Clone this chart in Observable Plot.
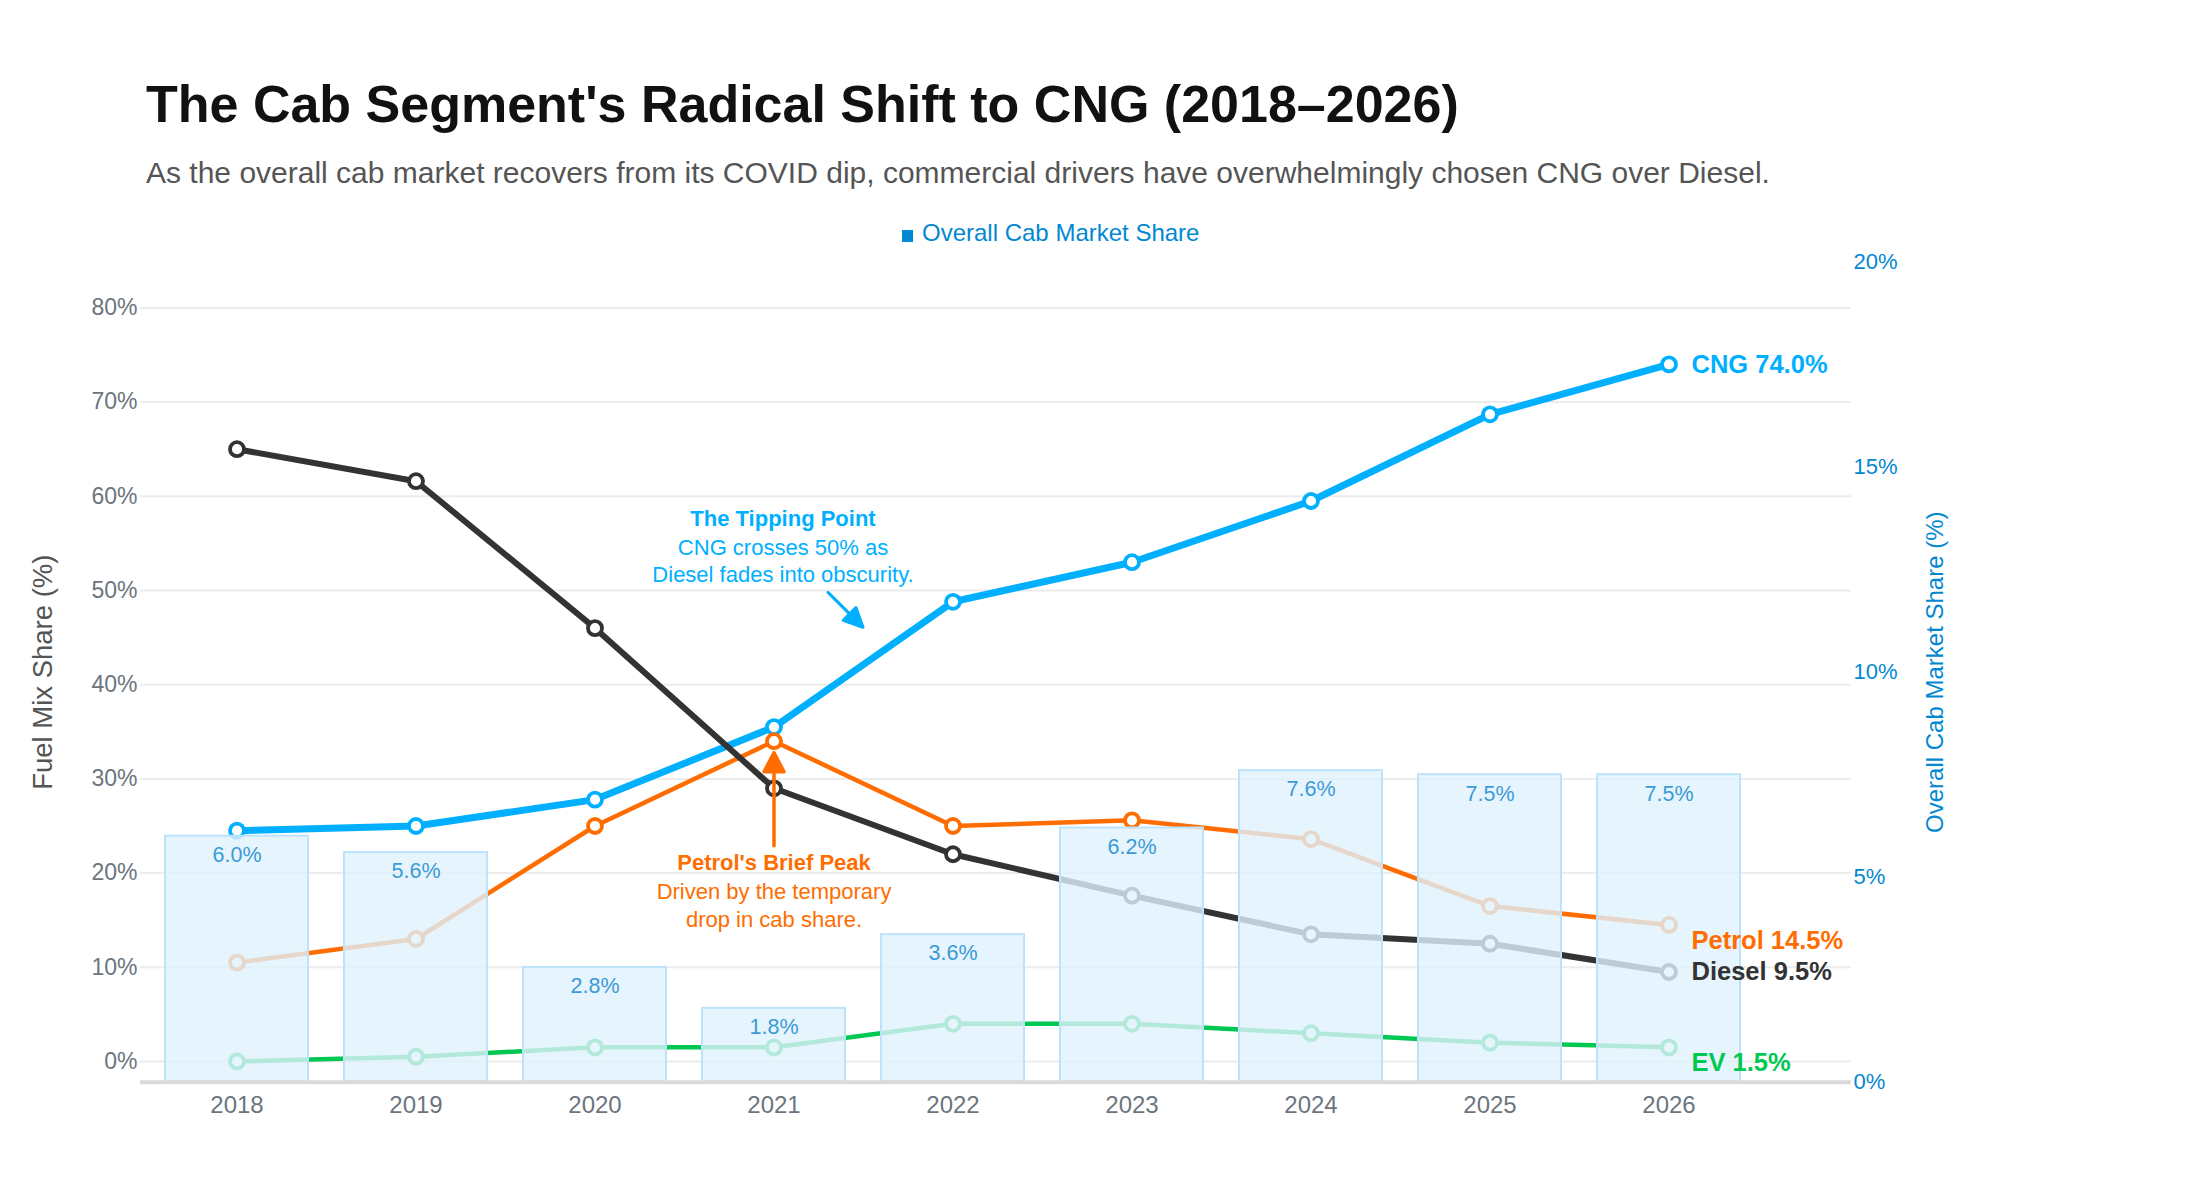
<!DOCTYPE html>
<html>
<head>
<meta charset="utf-8">
<script src="https://cdn.jsdelivr.net/npm/d3@7"></script>
<script src="https://cdn.jsdelivr.net/npm/@observablehq/plot@0.6"></script>
<style>
  html, body { margin: 0; padding: 0; background: #ffffff; }
  body { width: 2200px; height: 1200px; position: relative; font-family: "Liberation Sans", Arial, Helvetica, sans-serif; }
  .title { position: absolute; left: 146px; top: 78px; font-size: 52px; line-height: 52px; font-weight: 700; color: #111111; white-space: nowrap; }
  .subtitle { position: absolute; left: 146px; top: 158px; font-size: 30px; line-height: 30px; color: #555555; white-space: nowrap; }
  .legend { position: absolute; left: 922px; top: 221px; font-size: 24px; line-height: 24px; color: #0288d1; white-space: nowrap; }
  .legend-swatch { position: absolute; left: 902px; top: 230px; width: 11px; height: 12px; background: #0288d1; }
  #chart { position: absolute; left: 0; top: 250px; }
</style>
</head>
<body>
<div class="title">The Cab Segment's Radical Shift to CNG (2018–2026)</div>
<div class="subtitle">As the overall cab market recovers from its COVID dip, commercial drivers have overwhelmingly chosen CNG over Diesel.</div>
<div class="legend-swatch"></div>
<div class="legend">Overall Cab Market Share</div>
<div id="chart"></div>
<script>
// ---------- data ----------
const years = ["2018", "2019", "2020", "2021", "2022", "2023", "2024", "2025", "2026"];
const cng    = [24.5, 25.0, 27.8, 35.5, 48.8, 53.0, 59.5, 68.7, 74.0];
const diesel = [65.0, 61.6, 46.0, 29.0, 22.0, 17.6, 13.5, 12.5, 9.5];
const petrol = [10.5, 13.0, 25.0, 34.0, 25.0, 25.6, 23.6, 16.5, 14.5];
const ev     = [0.0, 0.5, 1.5, 1.5, 4.0, 4.0, 3.0, 2.0, 1.5];
const overallShare = [6.0, 5.6, 2.8, 1.8, 3.6, 6.2, 7.6, 7.5, 7.5];

const leftTicks = [0, 10, 20, 30, 40, 50, 60, 70, 80];
const rightTicks = [0, 5, 10, 15, 20];

const seriesNames = ["EV", "CNG", "Petrol", "Diesel"];
const seriesColors = { CNG: "#00b0ff", Petrol: "#ff6d00", Diesel: "#333333", EV: "#00c853" };
const seriesWidths = { CNG: 7, Petrol: 4.5, Diesel: 6, EV: 4.5 };
const endLabelDy = { CNG: 0, Petrol: 16, Diesel: 0, EV: 15 };

const annotationTipping = ["The Tipping Point", "CNG crosses 50% as", "Diesel fades into obscurity."];
const annotationPetrol = ["Petrol's Brief Peak", "Driven by the temporary", "drop in cab share."];

// ---------- scales ----------
const Y_LO = -2.2, Y_HI = 84.85;   // left axis (fuel mix %)
const R_HI = 20;                   // right axis (overall cab share %), 0..20
const toLeft = (r) => Y_LO + r * (Y_HI - Y_LO) / R_HI;
const toRight = (l) => (l - Y_LO) * R_HI / (Y_HI - Y_LO);

const rows = years.map((year, i) => ({
  year,
  CNG: cng[i], Diesel: diesel[i], Petrol: petrol[i], EV: ev[i],
  overall: overallShare[i]
}));
const last = rows[rows.length - 1];

const arrowShape = (head, half) => ({
  draw(context, l) {
    context.moveTo(0, 0);
    context.lineTo(0, -l + head);
    context.moveTo(-half, -l + head);
    context.lineTo(0, -l);
    context.lineTo(half, -l + head);
    context.closePath();
  }
});

const FONT = "Liberation Sans, Arial, Helvetica, sans-serif";
const marks = [];

// grid lines
marks.push(Plot.ruleY(leftTicks, { stroke: "#ececec", strokeWidth: 2 }));

// fuel lines (bottom to top)
for (const name of seriesNames) {
  marks.push(Plot.line(rows, { x: "year", y: name, stroke: seriesColors[name], strokeWidth: seriesWidths[name], curve: "linear" }));
  marks.push(Plot.dot(rows, { x: "year", y: name, r: 7, fill: "white", stroke: seriesColors[name], strokeWidth: 3.8 }));
}

// overall cab market share bars (semi-opaque overlay)
marks.push(Plot.barY(rows, {
  x: "year", y1: Y_LO, y2: (d) => toLeft(d.overall),
  fill: "#e0f1fc", fillOpacity: 0.8, stroke: "#bde3fa", strokeWidth: 2
}));
marks.push(Plot.text(rows, {
  x: "year", y: (d) => toLeft(d.overall), text: (d) => d.overall.toFixed(1) + "%",
  dy: 19, fill: "#3b9bd6", fontSize: 21.5, lineAnchor: "middle"
}));

// baseline
marks.push(Plot.ruleY([Y_LO], { stroke: "#dadada", strokeWidth: 4 }));

// axes
marks.push(Plot.axisY(leftTicks, {
  anchor: "left", tickSize: 0, tickPadding: 3, fontSize: 23, color: "#6c757d",
  tickFormat: (d) => d + "%", label: null
}));
marks.push(Plot.axisY(rightTicks.map(toLeft), {
  anchor: "right", tickSize: 0, tickPadding: 2, fontSize: 22, color: "#0288d1",
  tickFormat: (d) => Math.round(toRight(d)) + "%", label: null
}));
marks.push(Plot.axisX({ anchor: "bottom", tickSize: 0, tickPadding: 14, fontSize: 24, color: "#6c757d", label: null }));

// axis titles
marks.push(Plot.text(["Fuel Mix Share (%)"], { frameAnchor: "left", dx: -97, rotate: -90, fontSize: 27.5, fill: "#555555", textAnchor: "middle" }));
marks.push(Plot.text(["Overall Cab Market Share (%)"], { frameAnchor: "right", dx: 84, rotate: -90, fontSize: 24, fill: "#0288d1", textAnchor: "middle" }));

// annotation: tipping point
const tipY = [57.6, 54.5, 51.6];
annotationTipping.forEach((t, i) => {
  marks.push(Plot.text([t], { x: () => "2021", y: () => tipY[i], dx: 9, fontSize: 22, fill: "#00b0ff", fontWeight: i === 0 ? "bold" : "normal", textAnchor: "middle", lineAnchor: "middle" }));
});
marks.push(Plot.vector([0], { x: () => "2021", y: () => 49.8, dx: 54, length: 49.5, rotate: 135, anchor: "start",
  shape: arrowShape(19, 9), stroke: "#00b0ff", strokeWidth: 3, fill: "#00b0ff" }));

// annotation: petrol peak
const petY = [21.05, 18.0, 15.05];
annotationPetrol.forEach((t, i) => {
  marks.push(Plot.text([t], { x: () => "2021", y: () => petY[i], fontSize: 22, fill: "#ff6d00", fontWeight: i === 0 ? "bold" : "normal", textAnchor: "middle", lineAnchor: "middle" }));
});
marks.push(Plot.vector([0], { x: () => "2021", y: () => 22.9, length: 93, rotate: 0, anchor: "start",
  shape: arrowShape(19, 10), stroke: "#ff6d00", strokeWidth: 3.5, fill: "#ff6d00" }));

// end labels
for (const name of ["CNG", "Petrol", "Diesel", "EV"]) {
  marks.push(Plot.text([last], {
    x: "year", y: name, text: (d) => `${name} ${d[name].toFixed(1)}%`,
    dx: 22.5, dy: endLabelDy[name], textAnchor: "start", lineAnchor: "middle",
    fontSize: 25.5, fontWeight: "bold", fill: seriesColors[name]
  }));
}

const chart = Plot.plot({
  width: 2200,
  height: 950,
  marginTop: 11.7,
  marginBottom: 118.3,
  marginLeft: 140,
  marginRight: 349,
  style: { fontFamily: FONT, background: "transparent", overflow: "visible" },
  x: { type: "band", domain: years, range: [127.6, 1778.5], padding: 0.2, axis: null },
  y: { domain: [Y_LO, Y_HI], axis: null },
  marks
});
document.getElementById("chart").appendChild(chart);
</script>
</body>
</html>
